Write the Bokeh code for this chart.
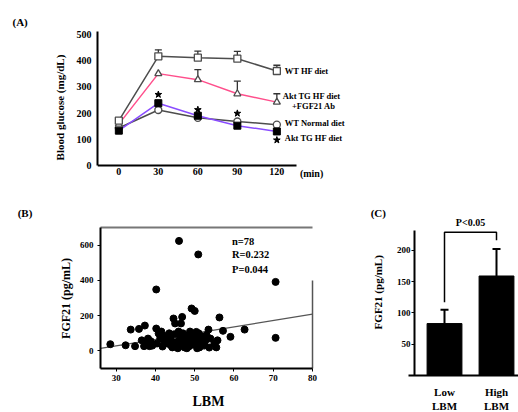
import math
from bokeh.plotting import figure
from bokeh.models import (Label, Whisker, ColumnDataSource, LinearAxis, FixedTicker,
                          Range1d, TeeHead, Title)
from bokeh.layouts import column, row
from bokeh.embed import file_html
from bokeh.resources import INLINE

FONT = "Liberation Serif"

# ---------------- (A) data ----------------
minutes = [0, 30, 60, 90, 120]
wt_hf = [171, 417, 412, 408, 361]
wt_hf_err = [0, 25, 25, 28, 22]
akt_hf_ab = [158, 351, 328, 274, 242]
akt_hf_ab_err = [0, 0, 38, 48, 32]
wt_normal = [143, 212, 182, 168, 156]
akt_hf = [133, 238, 190, 152, 130]
star_minutes = [30, 60, 90, 120]
star_level = [271, 213, 199, 97]
series_names = ["WT HF diet", "Akt TG HF diet", "+FGF21 Ab", "WT Normal diet", "Akt TG HF diet"]

# ---------------- (B) data ----------------
lbm = [28.5, 32.4, 34.8, 33.7, 35.8, 37.3, 37.1, 38.5, 38.1, 37.6,
       40.2, 40.2, 40.8, 41.2, 40.4, 39.2, 41.8, 42.3, 42.8, 43.3,
       43.9, 44.3, 44.6, 45.0, 46.0, 46.5, 46.8, 44.8, 45.3, 45.7,
       46.2, 46.6, 47.1, 47.4, 47.8, 48.1, 48.5, 48.9, 49.2, 49.3,
       49.7, 50.0, 50.0, 50.4, 50.4, 50.9, 51.2, 51.6, 52.0, 52.7,
       53.5, 53.7, 54.0, 55.0, 56.3, 57.2, 59.1, 62.7, 70.6, 70.6,
       38.8, 41.5, 42.0, 43.5, 44.0, 45.9, 47.0, 48.0, 48.8, 49.6,
       51.0, 51.5, 52.4, 53.0, 55.5, 55.8, 36.5, 50.6]
fgf21 = [38, 32, 27, 121, 125, 144, 27, 27, 70, 45,
         349, 127, 99, 70, 42, 30, 25, 55, 85, 40,
         65, 20, 184, 156, 625, 156, 193, 95, 50, 15,
         75, 35, 60, 20, 85, 45, 25, 70, 241, 35,
         95, 227, 42, 108, 70, 548, 20, 85, 50, 57,
         121, 19, 70, 40, 190, 114, 80, 121, 392, 74,
         55, 110, 80, 100, 30, 110, 100, 15, 110, 55,
         100, 40, 30, 90, 20, 60, 60, 15]
fit_gradient = 3.6
fit_intercept = -79.3
stats_text = ["n=78", "R=0.232", "P=0.044"]
lbm_ticks = [30, 40, 50, 60, 70, 80]

# ---------------- (C) data ----------------
groups = ["Low\nLBM", "High\nLBM"]
group_mean = [83, 159]
group_err = [22, 43]
p_text = "P<0.05"


def style(p, tick_size, label_size):
    p.toolbar_location = None
    p.outline_line_color = None
    p.xgrid.visible = False
    p.ygrid.visible = False
    p.background_fill_color = "white"
    p.border_fill_color = "white"
    for ax in p.axis:
        ax.axis_line_width = 2
        ax.axis_line_color = "black"
        ax.major_tick_line_color = "black"
        ax.minor_tick_line_color = None
        ax.major_label_text_font = FONT
        ax.major_label_text_font_style = "bold"
        ax.major_label_text_font_size = tick_size
        ax.major_label_text_color = "black"
        ax.axis_label_text_font = FONT
        ax.axis_label_text_font_style = "bold"
        ax.axis_label_text_font_size = label_size
        ax.axis_label_text_color = "black"


def lab(p, x, y, text, size, align="left", angle=0.0):
    p.add_layout(Label(x=x, y=y, text=text, text_font=FONT, text_font_style="bold",
                       text_font_size=size, text_align=align, text_baseline="middle",
                       text_color="black", angle=angle))


def panel_title(p, text, offset, standoff, size="11px"):
    p.add_layout(Title(text=text, text_font=FONT, text_font_style="bold", text_font_size=size,
                       align="left", offset=offset, standoff=standoff, text_color="black"), "above")


# ================= Panel A =================
pA = figure(width=518, height=199, output_backend="svg", toolbar_location=None,
            x_range=Range1d(-16.2, 303.5), y_range=Range1d(-69, 512),
            min_border_left=97, min_border_right=0, min_border_top=31, min_border_bottom=16)
style(pA, "10px", "11px")
pA.xaxis.ticker = FixedTicker(ticks=minutes)
pA.xaxis.bounds = (-16.2, 135)
pA.xaxis.fixed_location = 0
pA.yaxis.ticker = FixedTicker(ticks=[0, 100, 200, 300, 400, 500])
pA.yaxis.bounds = (0, 512)
for ax in pA.axis:
    ax.major_tick_out = 0
    ax.major_tick_in = 0
pA.yaxis.major_label_standoff = 6
pA.xaxis.major_label_standoff = 3
pA.yaxis.axis_label = "Blood glucose (mg/dL)"
pA.yaxis.axis_label_standoff = 8
panel_title(pA, "(A)", -85, 8)

GRAY = "#4d4d4d"
PINK = "#ff4f8c"
PURPLE = "#8a4dff"

pA.line(minutes, wt_normal, line_color=GRAY, line_width=1.5)
pA.line(minutes, akt_hf, line_color=PURPLE, line_width=1.5)
pA.line(minutes, akt_hf_ab, line_color=PINK, line_width=1.5)
pA.line(minutes, wt_hf, line_color=GRAY, line_width=1.5)

wsrc1 = ColumnDataSource(dict(x=minutes[1:], lo=wt_hf[1:],
                              hi=[m + e for m, e in zip(wt_hf[1:], wt_hf_err[1:])]))
pA.add_layout(Whisker(source=wsrc1, base="x", lower="lo", upper="hi", line_color="#333333",
                      line_width=1.3, lower_head=None,
                      upper_head=TeeHead(size=7, line_width=1.3, line_color="#333333")))
wsrc2 = ColumnDataSource(dict(x=minutes[2:], lo=akt_hf_ab[2:],
                              hi=[m + e for m, e in zip(akt_hf_ab[2:], akt_hf_ab_err[2:])]))
pA.add_layout(Whisker(source=wsrc2, base="x", lower="lo", upper="hi", line_color="#333333",
                      line_width=1.3, lower_head=None,
                      upper_head=TeeHead(size=7, line_width=1.3, line_color="#333333")))

pA.scatter(minutes, wt_normal, marker="circle", size=7, fill_color="white", line_color=GRAY, line_width=1.3)
pA.scatter(minutes, akt_hf, marker="square", size=7, fill_color="black", line_color="black")
pA.scatter(minutes, akt_hf_ab, marker="triangle", size=7, fill_color="white", line_color=GRAY, line_width=1.3)
pA.scatter(minutes, wt_hf, marker="square", size=7, fill_color="white", line_color=GRAY, line_width=1.3)
pA.scatter(star_minutes, star_level, marker="star", size=7, fill_color="black", line_color="black")

lab(pA, 126, 360, series_names[0], "8.5px")
lab(pA, 124.5, 267, series_names[1], "8.5px")
lab(pA, 131.5, 229, series_names[2], "8.5px")
lab(pA, 126, 163, series_names[3], "8.5px")
lab(pA, 126, 106, series_names[4], "8.5px")
lab(pA, 137.5, -29, "(min)", "10px")

# ================= Panel B =================
# frame covers the whole figure; axes pinned at fixed locations
xb0, xb1 = lbm_ticks[0] - 4, lbm_ticks[-1]
yb0, yb1 = -100, 700
pB = figure(width=340, height=213, output_backend="svg", toolbar_location=None, title=None,
            x_range=Range1d(0.53, 87.13), y_range=Range1d(-350, 860.2),
            min_border_left=0, min_border_right=0, min_border_top=0, min_border_bottom=0)
top_axis = LinearAxis(ticker=FixedTicker(ticks=[]))
pB.add_layout(top_axis, "above")
style(pB, "9px", "12px")
top_axis.axis_line_color = "#777777"
top_axis.major_tick_line_color = None
top_axis.fixed_location = yb1
top_axis.bounds = (xb0, xb1)
bx = pB.xaxis[1]
bx.ticker = FixedTicker(ticks=lbm_ticks)
bx.fixed_location = yb0
bx.bounds = (xb0, xb1)
bx.major_tick_out = 3
bx.major_tick_in = 0
bx.major_label_standoff = 4
pB.yaxis.ticker = FixedTicker(ticks=[0, 200, 400, 600])
pB.yaxis.fixed_location = xb0
pB.yaxis.bounds = (yb0, yb1)
pB.yaxis.major_tick_out = 3
pB.yaxis.major_tick_in = 0
pB.yaxis.major_label_standoff = 4

pB.segment(x0=[xb1], y0=[yb0], x1=[xb1], y1=[400], line_color="#555555", line_width=1.5)
pB.line([xb0, xb1], [fit_intercept + fit_gradient * xb0, fit_intercept + fit_gradient * xb1],
        line_color="#555555", line_width=1.2)
pB.scatter(lbm, fgf21, marker="circle", size=7, fill_color="black", line_color="black")
for i, t in enumerate(stats_text):
    lab(pB, 59.5, [623, 549, 460][i], t, "10.5px")
lab(pB, 4.9, 786, "(B)", "11px")
lab(pB, 53.5, -290, "LBM", "14px", align="center")
lab(pB, 17.1, 298, "FGF21 (pg/mL)", "12px", align="center", angle=math.pi / 2)

# ================= Panel C =================
xpos = [1, 2]
pC = figure(width=178, height=213, output_backend="svg", toolbar_location=None, title=None,
            x_range=Range1d(-1.0, 2.423), y_range=Range1d(-59.1, 281.2),
            min_border_left=0, min_border_right=0, min_border_top=0, min_border_bottom=0)
style(pC, "9px", "11px")
pC.xaxis.ticker = FixedTicker(ticks=xpos)
pC.xaxis.major_label_overrides = {x: g for x, g in zip(xpos, groups)}
pC.xaxis.major_tick_line_color = None
pC.xaxis.major_label_text_font_size = "11px"
pC.xaxis.major_label_standoff = 4
pC.xaxis.fixed_location = 0
pC.xaxis.bounds = (0.31, 2.423)
pC.yaxis.ticker = FixedTicker(ticks=[50, 100, 150, 200])
pC.yaxis.fixed_location = 0.423
pC.yaxis.bounds = (0, 232)
pC.yaxis.major_tick_out = 3
pC.yaxis.major_tick_in = 0
pC.yaxis.major_label_standoff = 1

pC.vbar(x=xpos, top=group_mean, width=0.67, fill_color="black", line_color="black")
csrc = ColumnDataSource(dict(x=xpos, lo=group_mean, hi=[m + e for m, e in zip(group_mean, group_err)]))
pC.add_layout(Whisker(source=csrc, base="x", lower="lo", upper="hi", line_color="black",
                      line_width=2, lower_head=None,
                      upper_head=TeeHead(size=8, line_width=2, line_color="black")))
bracket_top = 229
hi_tops = [m + e for m, e in zip(group_mean, group_err)]
pC.line([xpos[0], xpos[0], xpos[1], xpos[1]],
        [hi_tops[0] + 12, bracket_top, bracket_top, hi_tops[1] + 14],
        line_color="black", line_width=1.5)
lab(pC, 1.5, 244, p_text, "10px", align="center")
lab(pC, -0.42, 260, "(C)", "11px")
lab(pC, -0.27, 133, "FGF21 (pg/mL)", "11px", align="center", angle=math.pi / 2)

layout = column(pA, row(pB, pC))
open("out.html", "w").write(file_html(layout, INLINE))
